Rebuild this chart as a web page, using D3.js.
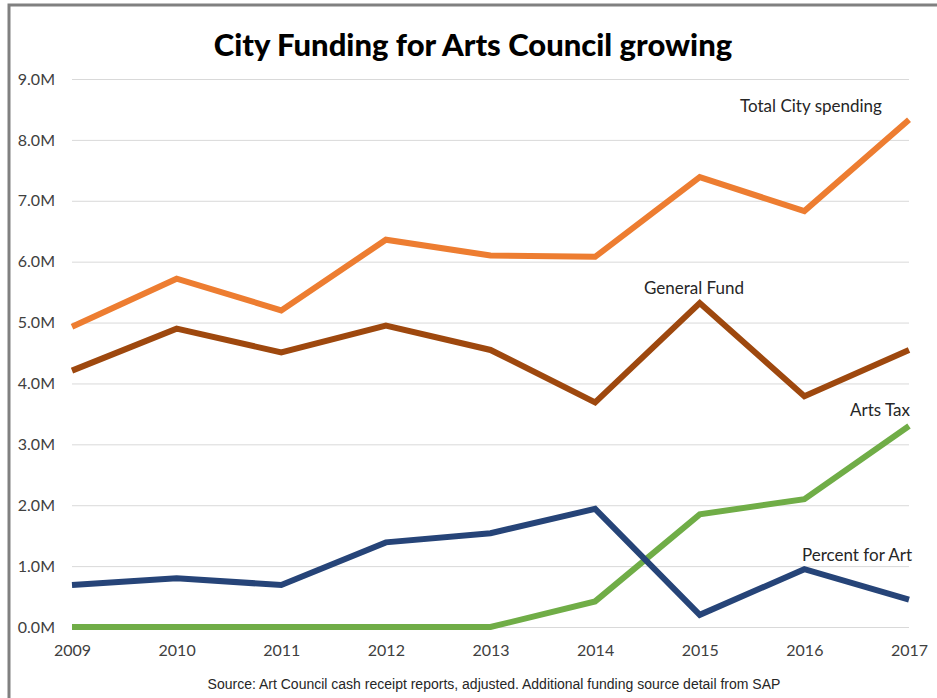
<!DOCTYPE html>
<html>
<head>
<meta charset="utf-8">
<script src="https://cdn.jsdelivr.net/npm/d3@7"></script>
<style>
  body { margin: 0; background: #fff; }
  svg { display: block; }
</style>
</head>
<body>
<svg width="937" height="698"></svg>
<script>
const width = 937;
const height = 698;

// values in millions of dollars
const years = ["2009", "2010", "2011", "2012", "2013", "2014", "2015", "2016", "2017"];
const totalCity = [4.93, 5.72, 5.2, 6.36, 6.1, 6.08, 7.39, 6.83, 8.33];
const generalFund = [4.21, 4.9, 4.51, 4.95, 4.55, 3.69, 5.32, 3.79, 4.55];
const artsTax = [0, 0, 0, 0, 0, 0.42, 1.85, 2.1, 3.3];
const percentForArt = [0.69, 0.8, 0.69, 1.39, 1.54, 1.94, 0.2, 0.95, 0.45];
const yTicks = [0, 1, 2, 3, 4, 5, 6, 7, 8, 9];

const series = [
  { name: "Total City spending", values: totalCity, color: "#ED7D31", lx: 811, ly: 106 },
  { name: "General Fund", values: generalFund, color: "#9E480E", lx: 694, ly: 288 },
  { name: "Arts Tax", values: artsTax, color: "#70AD47", lx: 880, ly: 410 },
  { name: "Percent for Art", values: percentForArt, color: "#264478", lx: 857, ly: 555 }
];

const x = d3.scalePoint().domain(years).range([72, 909]);
const y = d3.scaleLinear().domain([0, 9]).range([627, 79]);

const svg = d3.select("svg");

// frame
svg.append("path")
    .attr("d", "M9,698V5H937")
    .attr("fill", "none")
    .attr("stroke", "#808080")
    .attr("stroke-width", 3);

svg.append("text")
    .attr("x", 473)
    .attr("y", 56)
    .attr("text-anchor", "middle")
    .attr("font-family", "Lato, sans-serif")
    .attr("font-weight", 900)
    .attr("font-size", 31)
    .attr("fill", "#000")
    .text("City Funding for Arts Council growing");

// gridlines + y labels
const yAxis = svg.append("g")
    .attr("transform", "translate(72,0)")
    .call(d3.axisLeft(y).tickValues(yTicks)
      .tickSize(-(909 - 72))
      .tickPadding(17)
      .tickFormat(d => d3.format(".1f")(d) + "M"));
yAxis.select(".domain").remove();
yAxis.selectAll(".tick line").attr("stroke", "#d9d9d9").attr("stroke-width", 1);
yAxis.selectAll(".tick text")
    .attr("font-family", "Lato, sans-serif")
    .attr("font-size", 16)
    .attr("fill", "#404040");

const xAxis = svg.append("g")
    .attr("transform", "translate(0,627)")
    .call(d3.axisBottom(x).tickSize(0).tickPadding(18));
xAxis.select(".domain").remove();
xAxis.selectAll(".tick text")
    .attr("font-family", "Lato, sans-serif")
    .attr("font-size", 16)
    .attr("fill", "#404040");

const line = d3.line()
    .x((d, i) => x(years[i]))
    .y(d => y(d));

svg.append("g")
  .selectAll("path")
  .data(series)
  .join("path")
    .attr("d", d => line(d.values))
    .attr("fill", "none")
    .attr("stroke", d => d.color)
    .attr("stroke-width", 6)
    .attr("stroke-linejoin", "miter");

svg.append("g")
  .selectAll("text")
  .data(series)
  .join("text")
    .attr("x", d => d.lx)
    .attr("y", d => d.ly)
    .attr("dy", "0.35em")
    .attr("text-anchor", "middle")
    .attr("font-family", "Lato, sans-serif")
    .attr("font-size", 17)
    .attr("fill", "#262626")
    .text(d => d.name);

svg.append("text")
    .attr("x", 494)
    .attr("y", 689)
    .attr("text-anchor", "middle")
    .attr("font-family", "'Liberation Sans', Arial, sans-serif")
    .attr("font-size", 14)
    .attr("fill", "#262626")
    .text("Source: Art Council cash receipt reports, adjusted. Additional  funding source detail from SAP");
</script>
</body>
</html>
